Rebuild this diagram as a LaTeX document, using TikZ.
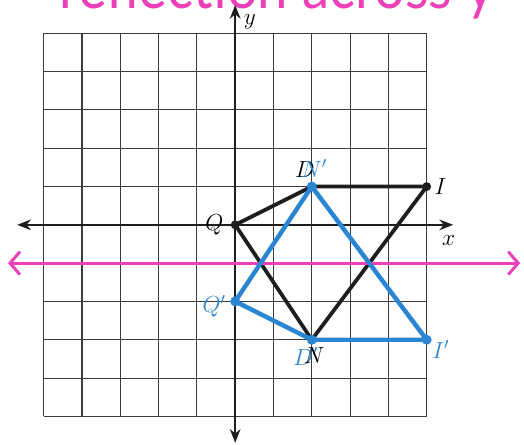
\documentclass[tikz,border=0pt]{standalone}
\usepackage{fontspec}
\newfontfamily\handfont{Lato}
\usetikzlibrary{arrows.meta,positioning}
\definecolor{ink}{HTML}{1E1E1E}
\definecolor{sky}{HTML}{2A86D2}
\definecolor{pinkink}{HTML}{EC40B9}
\definecolor{gridgray}{HTML}{3C3C3C}
\tikzset{
  gridline/.style={draw=gridgray,line width=.8pt},
  axis/.style={{Stealth[length=3.6mm,width=2.8mm]}-{Stealth[length=3.6mm,width=2.8mm]},
    line width=1.3pt,draw=ink},
  origfig/.style={draw=ink,line width=2.8pt,line join=round},
  imagefig/.style={draw=sky,line width=3.3pt,line join=round},
  pt/.style={circle,fill=#1,inner sep=0pt,minimum size=2.6mm},
  ptlabel/.style={font=\fontsize{18}{21}\selectfont,inner sep=0pt},
  mirror/.style={draw=pinkink,line width=2.4pt,line cap=round,
    {Straight Barb[length=2.6mm,width=6mm,line width=2.2pt]}-{Straight Barb[length=2.6mm,width=6mm,line width=2.2pt]}},
  note/.style={font=\handfont\fontsize{46}{46}\selectfont,text=pinkink,inner sep=0pt}
}
\begin{document}
\begin{tikzpicture}
  \useasboundingbox (-6.14,-5.74) rectangle (7.54,5.87);
  \fill[white] (-6.14,-5.74) rectangle (7.54,5.87);

  % handwritten note, cut off at the top
  \node[note,anchor=base west] (note) at (-4.6,5.64) {\scalebox{0.88}[1]{reflection across y=}};

  \draw[gridline] (-5,-5) grid (5,5);

  % axes
  \coordinate (xl) at (-5.69,0);
  \coordinate (xr) at (5.69,0);
  \coordinate (yb) at (0,-5.69);
  \coordinate (yt) at (0,5.74);
  \draw[axis] (xl) -- (xr);
  \draw[axis] (yb) -- (yt);
  \node[ptlabel,below=2.6mm of xr,xshift=-1.2mm] (xlab) {$x$};
  \node[ptlabel,right=2.2mm of yt,yshift=-4.4mm] (ylab) {$y$};

  % original figure QDIN
  \coordinate (Q) at (0,0);
  \coordinate (D) at (2,1);
  \coordinate (I) at (5,1);
  \coordinate (N) at (2,-3);
  \draw[origfig] (Q) -- (D) -- (I) -- (N) -- cycle;
  \node[pt=ink,minimum size=2.3mm] at (Q) {};
  \node[pt=ink,minimum size=2.3mm] at (I) {};

  % mirror line y=-1
  \coordinate (mirrorL) at (-5.93,-1);
  \coordinate (mirrorR) at (7.44,-1);
  \draw[mirror] (mirrorL) -- (mirrorR);

  % image Q'D'I'N'
  \coordinate (Qi) at (0,-2);
  \coordinate (Ni) at (2,1);
  \coordinate (Ii) at (5,-3);
  \coordinate (Di) at (2,-3);
  \draw[imagefig] (Qi) -- (Ni) -- (Ii) -- (Di) -- cycle;
  \foreach \p in {Qi,Ni,Ii,Di}
    \node[pt=sky] at (\p) {};

  % labels
  \node[ptlabel,left=3mm of Q] (Qlab) {$Q$};
  \node[ptlabel,above=2.4mm of D,xshift=-1.8mm] (Dlab) {$D$};
  \node[ptlabel,text=sky,above=2.4mm of Ni,xshift=0.6mm] (Nilab) {$N'$};
  \node[ptlabel,right=2mm of I] (Ilab) {$I$};
  \node[ptlabel,text=sky,left=2.4mm of Qi,yshift=-1.3mm] (Qilab) {$Q'$};
  \node[ptlabel,text=sky,below=2mm of Di,xshift=-1.6mm] (Dilab) {$D'$};
  \node[ptlabel,below=2mm of N,xshift=0.6mm] (Nlab) {$N$};
  \node[ptlabel,text=sky,below right=0.2mm and 1.4mm of Ii] (Iilab) {$I'$};
\end{tikzpicture}
\end{document}
